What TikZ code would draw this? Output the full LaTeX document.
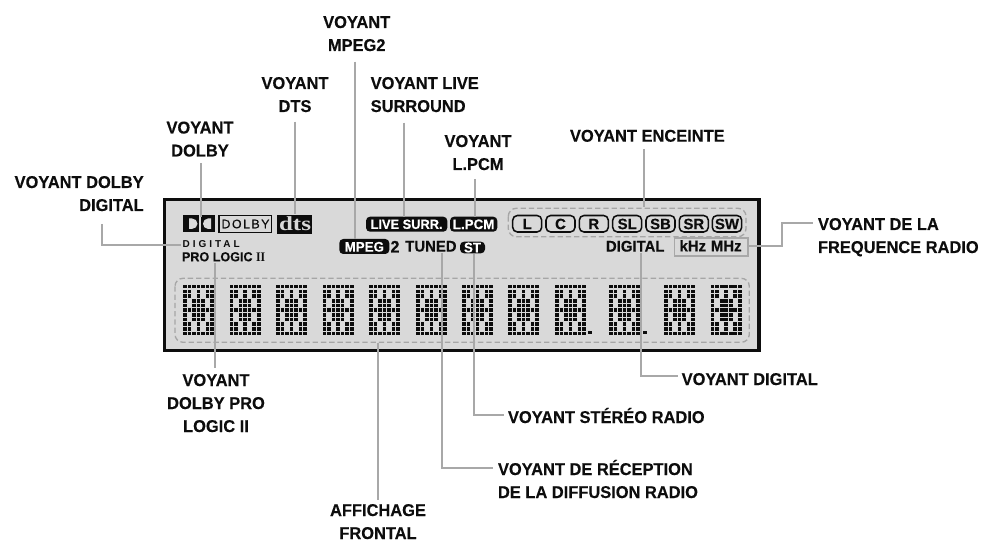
\documentclass[tikz,border=0pt]{standalone}
\usepackage{fontspec}
\setmainfont{Liberation Sans}
\newfontfamily\serifbf{Liberation Serif}
\newfontfamily\lblf[FakeBold=0.25,FakeStretch=0.963]{Liberation Sans Bold}
\newfontfamily\spacedf[LetterSpace=12,FakeBold=0.3]{Liberation Sans}
\newfontfamily\spacedg[LetterSpace=30]{Liberation Sans}
\newfontfamily\spkf[FakeBold=0.15]{Liberation Sans Bold}
\definecolor{panelgray}{HTML}{D9D9D9}
\definecolor{leadgray}{HTML}{A8A8A8}
\definecolor{dashgray}{HTML}{A6A6A6}
\definecolor{inkblack}{HTML}{0D0D0D}
\newcommand{\fsz}[1]{\fontsize{#1}{#1}\selectfont}
\tikzset{
  lbl/.style={inner sep=0pt,outer sep=0pt,text=inkblack,align=center,
    font=\lblf\fontsize{12.8}{17.25}\selectfont},
  lblL/.style={lbl,align=left},
  lblR/.style={lbl,align=right},
  lead/.style={draw=leadgray,line width=1.5pt,line cap=butt,line join=miter},
  pilltext/.style={inner sep=0pt,text=white,font=\lblf\fsz{10.4}},
  pillbg/.style={fill=inkblack,rounded corners=3pt},
  spk/.style={draw=inkblack,line width=1.15pt,rounded corners=3.5pt,fill=panelgray},
  spktext/.style={inner sep=0pt,text=inkblack,font=\spkf\fsz{11.2}},
  lcdtext/.style={inner sep=0pt,text=inkblack,font=\lblf\fsz{11.6}},
  dashbox/.style={draw=dashgray,line width=1pt,dash pattern=on 4pt off 2.2pt,rounded corners=6pt},
}
\newcommand{\lcddigit}[1]{%
  \foreach \r/\cols in {0/{0,1,2,3,4,5,6},1/{0,1,3,5,6},2/{0,1,3,5,6},3/{0,2,3,4,6},4/{0,2,3,4,6},
     5/{0,1,2,3,4,5,6},6/{0,2,3,4,6},7/{0,2,3,4,6},8/{0,1,3,5,6},9/{0,1,3,5,6},10/{0,1,2,3,4,5,6}}{
    \foreach \c in \cols{
      \fill[inkblack] ({#1+\c*4.55},{285+\r*4.68}) rectangle ++(3.7,3.5);
    }
  }%
}
\begin{document}
\begin{tikzpicture}[x=0.75pt,y=-0.75pt]
\useasboundingbox (0,0) rectangle (984,541);
% panel
\draw[fill=panelgray,draw=inkblack,line width=2.3pt] (164.5,199.5) rectangle (759,350.5);
% dashed groups
\draw[dashbox] (508.3,208.3) rectangle (746,236.7);
\draw[dashbox] (175,278.3) rectangle (749.3,342.3);
% digits
\foreach \x in {183,229.5,276,322.5,369,416,462,508,555,609,664,710.7}{\lcddigit{\x}}
\fill[inkblack] (588,330.5) rectangle ++(3.8,3.6);
\fill[inkblack] (643,330.5) rectangle ++(3.8,3.6);
% Dolby double-D
\fill[inkblack] (183.3,215) rectangle (199.3,232.3);
\fill[inkblack] (200.5,215) rectangle (214.7,232.3);
\fill[panelgray] (189,218.5) -- (192,218.5) arc[start angle=-90,end angle=90,x radius=5.5,y radius=5.2] -- (189,228.9) -- cycle;
\fill[panelgray] (211,218.5) -- (208,218.5) arc[start angle=270,end angle=90,x radius=5,y radius=5.2] -- (211,228.9) -- cycle;
% DOLBY box
\draw[inkblack,line width=.8pt] (219,215.5) rectangle (271.5,232.5);
\node[inner sep=0pt,text=inkblack] (dolbytxt) at (245.5,224) {\spacedf\fsz{9.3}DOLBY};
% dts
\fill[inkblack] (277.3,215) rectangle (312.3,234);
\node[inner sep=0pt,text=panelgray,anchor=base] (dtstxt) at (295,230.5) {\serifbf\bfseries\fsz{15}\scalebox{1.25}[1]{dts}};
% digital / pro logic
\node[inner sep=0pt,text=inkblack,anchor=base west] (digsmall) at (182.3,247.5) {\spacedg\bfseries\fsz{7.5}DIGITAL};
\node[inner sep=0pt,text=inkblack,anchor=base west] (prologic) at (181.7,261.3) {\lblf\fsz{9.8}PRO LOGIC {\serifbf\bfseries\scalebox{.9}[1]{II}}};
% pills
\fill[pillbg] (339.3,239) rectangle (389.3,254);
\node[pilltext] (mpeg) at (364.3,246.8) {MPEG};
\node[inner sep=0pt,text=inkblack,anchor=base] (two) at (395,252.5) {\lblf\fsz{12.5}2};
\node[lcdtext,anchor=base west] (tuned) at (405,251.6) {TUNED};
\fill[pillbg] (460,241.7) rectangle (485,253.3);
\node[pilltext] (st) at (472.5,247.6) {ST};
\fill[pillbg] (366,216.7) rectangle (447.3,231.7);
\node[pilltext,font=\lblf\fsz{10}] (live) at (406.6,224.3) {LIVE SURR.};
\fill[pillbg] (450,216.7) rectangle (497.3,231.7);
\node[pilltext] (lpcm) at (473.6,224.3) {L.PCM};
% speakers
\foreach \a/\b/\t in {512.7/541.7/L,546/575/C,579.3/608.3/R,612.7/641.7/SL,646/675/SB,679.3/708.3/SR,712.3/741.7/SW}{
  \draw[spk] (\a,215.5) rectangle (\b,232);
  \node[spktext] (spk\t) at ({(\a+\b)/2},224) {\t};
}
% digital, kHz box
\node[lcdtext,anchor=base west] (digital) at (605.7,251.6) {DIGITAL};
\draw[draw=leadgray,line width=1.2pt] (674.5,238) rectangle (748,256);
\node[lcdtext,anchor=base west] (khz) at (679.3,251.3) {kHz};
\node[lcdtext,anchor=base west] (mhz) at (710.7,251.3) {MHz};
% labels (a multi-line node's base is its last line)
\node[lbl,anchor=base] (lmpeg) at (356.7,51) {VOYANT\\MPEG2};
\node[lbl,anchor=base] (ldts) at (295,112) {VOYANT\\DTS};
\node[lblL,anchor=base west] (llive) at (370.7,112) {VOYANT LIVE\\SURROUND};
\node[lbl,anchor=base] (llpcm) at (478,170) {VOYANT\\L.PCM};
\node[lbl,anchor=base] (ldolby) at (200,156.5) {VOYANT\\DOLBY};
\node[lblR,anchor=base east] (ldd) at (143.7,211) {VOYANT DOLBY\\DIGITAL};
\node[lblL,anchor=base west] (lenc) at (570,141.7) {VOYANT ENCEINTE};
\node[lblL,anchor=base west] (lfreq) at (818,253) {VOYANT DE LA\\FREQUENCE RADIO};
\node[lblL,anchor=base west] (ldig) at (681.7,385) {VOYANT DIGITAL};
\node[lblL,anchor=base west] (lster) at (508,423) {VOYANT STÉRÉO RADIO};
\node[lblL,anchor=base west] (lrec) at (498,498) {VOYANT DE RÉCEPTION\\DE LA DIFFUSION RADIO};
\node[lbl,anchor=base] (laff) at (378,539) {AFFICHAGE\\FRONTAL};
\node[lbl,anchor=base] (lpro) at (216,432) {VOYANT\\DOLBY PRO\\LOGIC II};
% connector ends
\coordinate (a1) at (102,224); \coordinate (a2) at (181,245);
\coordinate (b1) at (201,163); \coordinate (b2) at (201,217);
\coordinate (c1) at (295,121.7); \coordinate (c2) at (295,214);
\coordinate (d1) at (355,61.7); \coordinate (d2) at (355,239);
\coordinate (e1) at (404,122.7); \coordinate (e2) at (404,217);
\coordinate (f1) at (475,179); \coordinate (f2) at (475,217);
\coordinate (g1) at (644,149); \coordinate (g2) at (644,207);
\coordinate (h1) at (747,246); \coordinate (h2) at (813,223);
\coordinate (i1) at (640.7,253); \coordinate (i2) at (678,376);
\coordinate (j1) at (474,254); \coordinate (j2) at (504,415);
\coordinate (k1) at (441.7,253); \coordinate (k2) at (493,467.7);
\coordinate (l1) at (378,342.5); \coordinate (l2) at (378,500);
\coordinate (m1) at (215,263); \coordinate (m2) at (215,368);
\draw[lead] (a1) |- (a2);
\draw[lead] (b1) -- (b2);
\draw[lead] (c1) -- (c2);
\draw[lead] (d1) -- (d2);
\draw[lead] (e1) -- (e2);
\draw[lead] (f1) -- (f2);
\draw[lead] (g1) -- (g2);
\draw[lead] (h1) -| (782,223) -- (h2);
\draw[lead] (i1) |- (i2);
\draw[lead] (j1) |- (j2);
\draw[lead] (k1) |- (k2);
\draw[lead] (l1) -- (l2);
\draw[lead] (m1) -- (m2);
\end{tikzpicture}
\end{document}
